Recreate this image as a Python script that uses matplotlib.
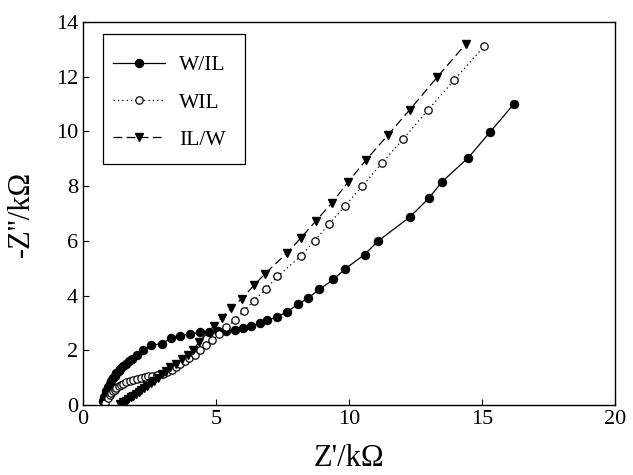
import matplotlib
matplotlib.use("Agg")
import matplotlib.pyplot as plt
from matplotlib.patches import Rectangle

plt.rcParams['font.family'] = ['Liberation Serif', 'DejaVu Serif']
plt.rcParams['mathtext.fontset'] = 'stix'

labels = ["W/IL", "WIL", "IL/W"]

wil_x = [0.74, 0.80, 0.87, 0.93, 1.01, 1.07, 1.13, 1.20, 1.26, 1.34, 1.41, 1.50, 1.61, 1.73, 1.85, 2.02, 2.26, 2.54,
         2.96, 3.31, 3.66, 4.02, 4.39, 4.73, 5.07, 5.37, 5.70, 6.02, 6.31, 6.64, 6.92, 7.31, 7.67, 8.07, 8.47,
         8.88, 9.41, 9.84, 10.58, 11.08, 12.28, 12.99, 13.48, 14.48, 15.30, 16.19]
wil_y = [0.15, 0.30, 0.51, 0.65, 0.79, 0.90, 0.99, 1.08, 1.17, 1.25, 1.32, 1.42, 1.51, 1.60, 1.68, 1.84, 2.00, 2.18,
         2.25, 2.44, 2.53, 2.60, 2.66, 2.68, 2.70, 2.72, 2.76, 2.81, 2.89, 2.99, 3.10, 3.23, 3.41, 3.68, 3.92,
         4.23, 4.59, 4.97, 5.50, 5.99, 6.87, 7.55, 8.15, 9.04, 9.98, 11.00]

w_il_x = [0.84, 0.93, 1.00, 1.07, 1.13, 1.19, 1.26, 1.34, 1.43, 1.52, 1.62, 1.75, 1.88, 2.02, 2.20, 2.33, 2.44,
          2.60, 2.80, 2.99, 3.16, 3.33, 3.49, 3.66, 3.82, 4.00, 4.20, 4.41, 4.62, 4.86, 5.10, 5.39, 5.72, 6.05,
          6.41, 6.89, 7.31, 8.19, 8.71, 9.24, 9.84, 10.49, 11.24, 12.04, 12.97, 13.94, 15.08]
w_il_y = [0.08, 0.27, 0.37, 0.45, 0.52, 0.57, 0.63, 0.69, 0.74, 0.79, 0.83, 0.88, 0.91, 0.94, 0.99, 1.02, 1.06,
          1.08, 1.11, 1.15, 1.22, 1.29, 1.38, 1.49, 1.60, 1.72, 1.84, 2.01, 2.18, 2.37, 2.59, 2.84, 3.12, 3.45,
          3.80, 4.26, 4.70, 5.45, 6.01, 6.61, 7.27, 8.00, 8.85, 9.73, 10.79, 11.86, 13.12]

ilw_x = [1.40, 1.50, 1.60, 1.70, 1.80, 1.90, 2.00, 2.10, 2.20, 2.30, 2.42, 2.55, 2.68, 2.82, 2.98, 3.13, 3.27,
         3.49, 3.73, 3.94, 4.15, 4.36, 4.92, 5.21, 5.58, 5.96, 6.43, 6.83, 7.67, 8.20, 8.76, 9.36, 9.96,
         10.65, 11.47, 12.28, 13.30, 14.39]
ilw_y = [0.05, 0.10, 0.16, 0.22, 0.29, 0.35, 0.41, 0.48, 0.55, 0.62, 0.71, 0.80, 0.90, 1.01, 1.14, 1.25, 1.38,
         1.52, 1.69, 1.85, 2.03, 2.30, 2.90, 3.19, 3.56, 3.88, 4.38, 4.79, 5.56, 6.12, 6.74, 7.39, 8.15,
         8.97, 9.88, 10.79, 11.97, 13.20]

xticks = [0, 5, 10, 15, 20]
yticks = [0, 2, 4, 6, 8, 10, 12, 14]

fig = plt.figure(figsize=(6.33, 4.75), dpi=100)
ax = fig.add_axes([0.131, 0.147, 0.841, 0.807])

ax.plot(wil_x, wil_y, color='black', linestyle='-', linewidth=0.9, marker='o', markersize=5.8,
        markerfacecolor='black', markeredgecolor='black', label=labels[0])
ax.plot(w_il_x, w_il_y, color='black', linestyle=(0, (1, 2.5)), linewidth=0.9, marker='o', markersize=5.3,
        markerfacecolor='white', markeredgecolor='black', markeredgewidth=0.9, label=labels[1])
ax.plot(ilw_x, ilw_y, color='black', linestyle=(0, (7, 3.5)), linewidth=0.9, marker='v', markersize=6,
        markerfacecolor='black', markeredgecolor='black', label=labels[2])

ax.set_xlim(0, 20)
ax.set_ylim(0, 14)
ax.set_xticks(xticks)
ax.set_yticks(yticks)
ax.tick_params(direction='in', length=4, width=0.8, labelsize=16, top=False, right=False)
for s in ax.spines.values():
    s.set_linewidth(1.0)

ax.set_xlabel("Z'/k\u03a9", fontsize=22, labelpad=11)
ax.set_ylabel("-Z''/k\u03a9", fontsize=22, labelpad=14)

leg = ax.legend(loc='upper left', bbox_to_anchor=(0.056, 0.913), fontsize=15.5, frameon=False,
                handlelength=2.45, borderpad=0.0, labelspacing=0.8, handletextpad=0.65,
                borderaxespad=0.0)
ax.add_patch(Rectangle((0.0376, 0.629), 0.267, 0.340, transform=ax.transAxes, fill=False,
                       edgecolor='black', linewidth=0.9, zorder=5))

fig.savefig("out.png", dpi=100)
